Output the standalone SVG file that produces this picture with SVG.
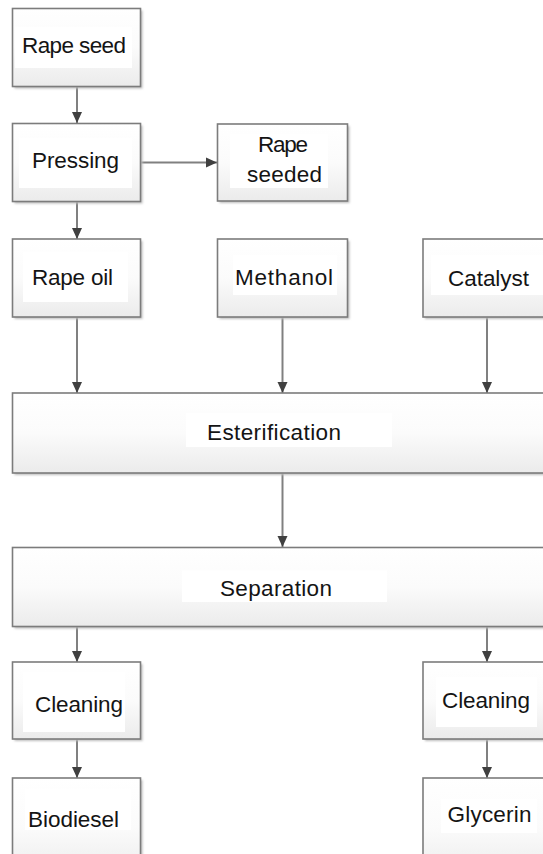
<svg xmlns="http://www.w3.org/2000/svg" width="543" height="854" viewBox="0 0 543 854">
<style>
.box{fill:url(#g);stroke:#7c7c7c;stroke-width:1.6}
.sh{fill:#bdbdbd;filter:url(#blur)}
.lb{fill:#ffffff}
.t{font-family:"Liberation Sans",Arial,sans-serif;font-size:22.5px;fill:#141414;text-anchor:middle}
.c{stroke:#808080;stroke-width:2;fill:none;marker-end:url(#ah)}
</style>
<defs>
<linearGradient id="g" x1="0" y1="0" x2="0" y2="1">
<stop offset="0" stop-color="#ffffff"/>
<stop offset="0.5" stop-color="#fbfbfb"/>
<stop offset="1" stop-color="#ebebeb"/>
</linearGradient>
<filter id="blur" x="-10%" y="-10%" width="120%" height="120%"><feGaussianBlur stdDeviation="1"/></filter>
<marker id="ah" markerUnits="userSpaceOnUse" markerWidth="12" markerHeight="12" viewBox="0 0 12 12" refX="11" refY="6" orient="auto">
<path d="M0,1 L11,6 L0,11 Z" fill="#404040"/>
</marker>
</defs>
<rect width="543" height="854" fill="#ffffff"/>
<g id="connectors">
<line class="c" x1="77" y1="87" x2="77" y2="123"/>
<line class="c" x1="141" y1="162.5" x2="217" y2="162.5"/>
<line class="c" x1="77" y1="202" x2="77" y2="239"/>
<line class="c" x1="77" y1="317" x2="77" y2="393"/>
<line class="c" x1="282.5" y1="317" x2="282.5" y2="393"/>
<line class="c" x1="487" y1="317" x2="487" y2="393"/>
<line class="c" x1="282.5" y1="473" x2="282.5" y2="547"/>
<line class="c" x1="77" y1="627" x2="77" y2="662"/>
<line class="c" x1="487" y1="627" x2="487" y2="662"/>
<line class="c" x1="77" y1="739" x2="77" y2="778"/>
<line class="c" x1="487" y1="739" x2="487" y2="778"/>
</g>
<g id="rape-seed">
<rect class="sh" x="14.5" y="10.5" width="128" height="78"/>
<rect class="box" x="12.5" y="8.5" width="128" height="78"/>
<rect class="lb" x="15" y="27" width="117" height="41"/>
<text class="t" x="74" y="53" textLength="104">Rape seed</text>
</g>
<g id="pressing">
<rect class="sh" x="14.5" y="125.5" width="128" height="78"/>
<rect class="box" x="12.5" y="123.5" width="128" height="78"/>
<rect class="lb" x="19" y="138" width="113" height="50"/>
<text class="t" x="75.5" y="167.5" textLength="87">Pressing</text>
</g>
<g id="rape-seeded">
<rect class="sh" x="219.5" y="126" width="130" height="77"/>
<rect class="box" x="217.5" y="124" width="130" height="77"/>
<rect class="lb" x="230" y="134" width="98" height="54"/>
<text class="t" x="283" y="151.5" textLength="50">Rape</text>
<text class="t" x="284.5" y="181.5" textLength="75">seeded</text>
</g>
<g id="rape-oil">
<rect class="sh" x="14.5" y="241" width="128" height="78"/>
<rect class="box" x="12.5" y="239" width="128" height="78"/>
<rect class="lb" x="23" y="252" width="105" height="50"/>
<text class="t" x="72.5" y="284.5" textLength="81">Rape oil</text>
</g>
<g id="methanol">
<rect class="sh" x="219.5" y="241" width="130" height="78"/>
<rect class="box" x="217.5" y="239" width="130" height="78"/>
<rect class="lb" x="233" y="255" width="104" height="40"/>
<text class="t" x="284" y="285" textLength="98">Methanol</text>
</g>
<g id="catalyst">
<rect class="sh" x="425" y="241" width="140" height="78"/>
<rect class="box" x="423" y="239" width="140" height="78"/>
<rect class="lb" x="431" y="255" width="112" height="40"/>
<text class="t" x="488.5" y="285.5" textLength="81">Catalyst</text>
</g>
<g id="esterification">
<rect class="sh" x="14.5" y="395" width="560" height="80"/>
<rect class="box" x="12.5" y="393" width="560" height="80"/>
<rect class="lb" x="186" y="413" width="206" height="34"/>
<text class="t" x="274" y="439.5" textLength="134">Esterification</text>
</g>
<g id="separation">
<rect class="sh" x="14.5" y="549.5" width="560" height="79"/>
<rect class="box" x="12.5" y="547.5" width="560" height="79"/>
<rect class="lb" x="182" y="570.5" width="205" height="31.5"/>
<text class="t" x="276" y="595.5" textLength="112">Separation</text>
</g>
<g id="cleaning-left">
<rect class="sh" x="14.5" y="664" width="128" height="77"/>
<rect class="box" x="12.5" y="662" width="128" height="77"/>
<rect class="lb" x="23" y="672" width="102" height="60"/>
<text class="t" x="79" y="711.5" textLength="88">Cleaning</text>
</g>
<g id="cleaning-right">
<rect class="sh" x="425" y="664" width="140" height="77"/>
<rect class="box" x="423" y="662" width="140" height="77"/>
<rect class="lb" x="436" y="677" width="101" height="50"/>
<text class="t" x="486" y="707.5" textLength="88">Cleaning</text>
</g>
<g id="biodiesel">
<rect class="sh" x="14.5" y="780" width="128" height="100"/>
<rect class="box" x="12.5" y="778" width="128" height="100"/>
<rect class="lb" x="25" y="789" width="106" height="41"/>
<text class="t" x="73.5" y="826.5" textLength="91">Biodiesel</text>
</g>
<g id="glycerin">
<rect class="sh" x="425" y="780" width="140" height="100"/>
<rect class="box" x="423" y="778" width="140" height="100"/>
<rect class="lb" x="441" y="799" width="96" height="34"/>
<text class="t" x="489.5" y="821.5" textLength="84">Glycerin</text>
</g>
</svg>
